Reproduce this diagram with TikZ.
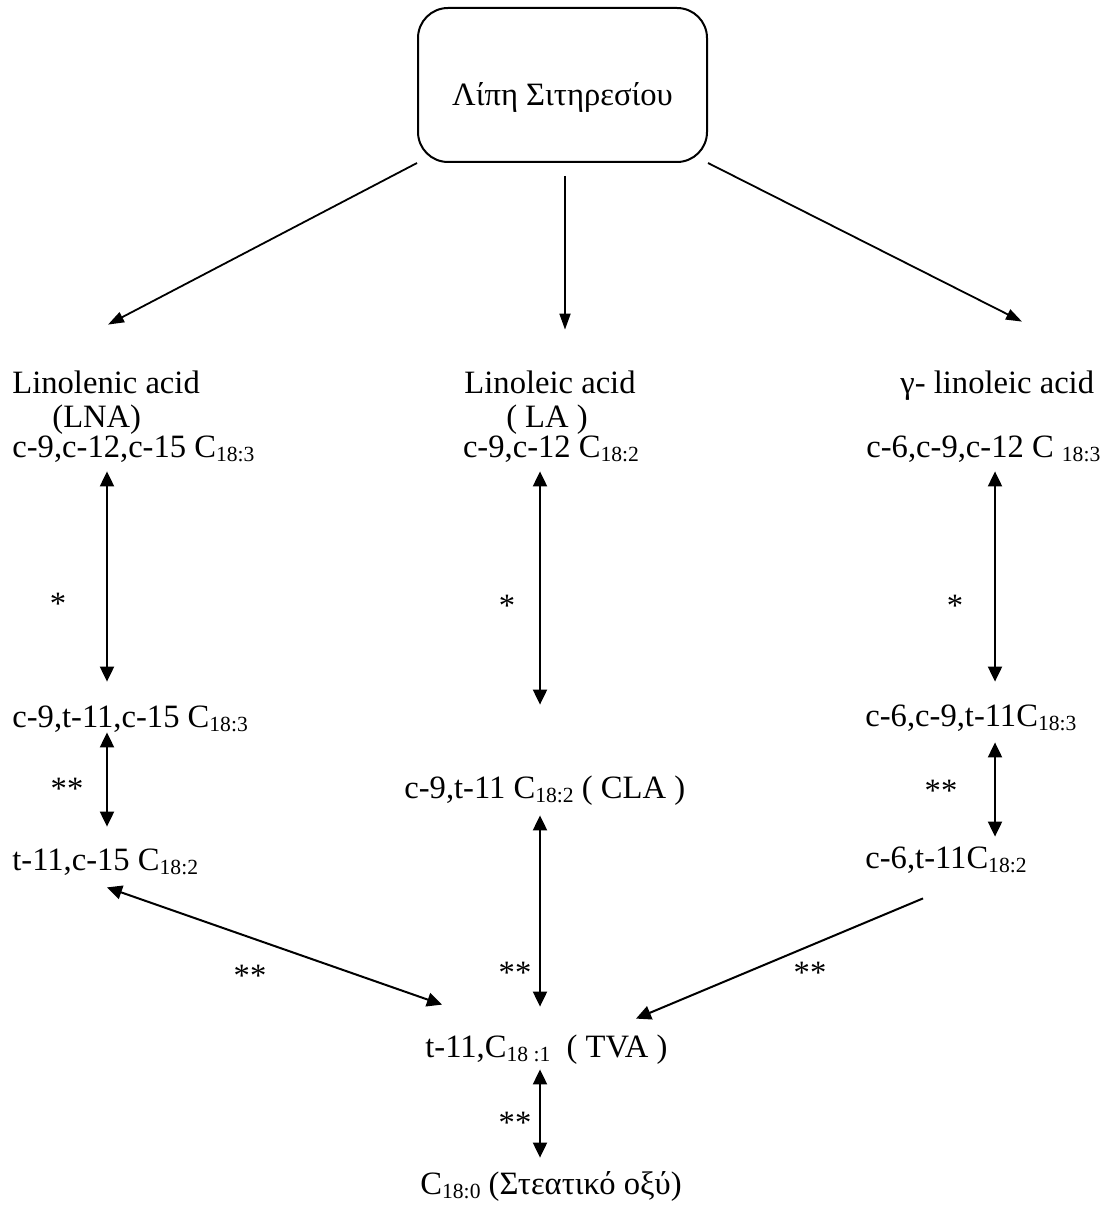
\documentclass[tikz,border=0pt]{standalone}
\usepackage{fontspec}
\setmainfont{Liberation Serif}
\usetikzlibrary{arrows.meta,calc}
\newcommand{\fs}{\fontsize{16.3pt}{19.5pt}\selectfont}
\newcommand{\sbs}[1]{\raisebox{-2pt}{\fontsize{10.8pt}{12pt}\selectfont #1}}
\begin{document}
\begin{tikzpicture}[x=0.5pt, y=-0.5pt,
  txt/.style={font=\fs, inner sep=0pt, text height=11.5pt, text depth=4pt},
  star/.style={font=\fs, inner sep=0pt, anchor=base},
  arr/.style={line width=0.9pt, -{Triangle[length=8pt,width=5.5pt]}},
  dbl/.style={line width=1pt, {Triangle[length=7.5pt,width=7pt]}-{Triangle[length=7.5pt,width=7pt]}},
  one/.style={line width=1pt, -{Triangle[length=7.5pt,width=7pt]}}]
  \useasboundingbox (0,0) rectangle (1107,1209);
  \coordinate (colL) at (107,0);
  \coordinate (colM) at (540,0);
  \coordinate (colR) at (995,0);

  \node[draw, line width=1pt, rounded corners=15pt, minimum width=144.5pt,
    minimum height=77pt, font=\fs, text height=21pt, text depth=0pt]
    (lipi) at (562.5,85) {Λίπη Σιτηρεσίου};

  % acids
  \node[txt, anchor=base west] (lnaName) at (12,393) {Linolenic acid};
  \node[txt, anchor=base west] (lnaAbbr) at (52,427) {(LNA)};
  \node[txt, anchor=base west] (lnaFa) at (12,457) {c-9,c-12,c-15 C\sbs{18:3}};
  \node[txt, anchor=base] (laName) at (550,393) {Linoleic acid};
  \node[txt, anchor=base] (laAbbr) at (547,427) {( LA )};
  \node[txt, anchor=base] (laFa) at (551,457) {c-9,c-12 C\sbs{18:2}};
  \node[txt, anchor=base west] (glaName) at (900,393) {γ- linoleic acid};
  \node[txt, anchor=base west] (glaFa) at (866,457) {c-6,c-9,c-12 C \sbs{18:3}};

  % intermediates
  \node[txt, anchor=base west] (lnaIso) at (12,727) {c-9,t-11,c-15 C\sbs{18:3}};
  \node[txt, anchor=base west] (glaIso) at (865,726) {c-6,c-9,t-11C\sbs{18:3}};
  \node[txt, anchor=base west] (cla) at (404,798) {c-9,t-11 C\sbs{18:2} ( CLA )};
  \node[txt, anchor=base west] (lnaTrans) at (12,870) {t-11,c-15 C\sbs{18:2}};
  \node[txt, anchor=base west] (glaTrans) at (865,868) {c-6,t-11C\sbs{18:2}};
  \node[txt, anchor=base west] (tva) at (425,1057) {t-11,C\sbs{18 :1}\ \ ( TVA )};
  \node[txt, anchor=base west] (stear) at (420,1194) {C\sbs{18:0} (Στεατικό οξύ)};

  % stars
  \node[star] (stL) at (58,614) {*};
  \node[star] (stM) at (507,616) {*};
  \node[star] (stR) at (955,616) {*};
  \node[star] (stLb) at (67,799) {**};
  \node[star] (stRb) at (941,801) {**};
  \node[star] (stDl) at (250,986) {**};
  \node[star] (stDr) at (810,983) {**};
  \node[star] (stMb) at (515,983) {**};
  \node[star] (stEnd) at (515,1133) {**};

  \draw[arr] (lipi.south west) -- ($(lnaName.north west)+(96,-45)$);
  \draw[arr] ($(lipi.south)+(2.5,13)$) -- ($(lipi.south |- laName.north)+(2.5,-40)$);
  \draw[arr] (lipi.south east) -- ($(glaName.north west)+(122,-48)$);

  \draw[dbl] ($(lnaFa.south -| colL)+(0,6)$) -- ($(lnaIso.north -| colL)+(0,-22)$);
  \draw[dbl] ($(laFa.south -| colM)+(0,6)$) -- ($(cla.north -| colM)+(0,-70)$);
  \draw[dbl] ($(glaFa.south -| colR)+(0,6)$) -- ($(glaIso.north -| colR)+(0,-21)$);
  \draw[dbl] ($(lnaIso.south -| colL)+(0,-3)$) -- ($(lnaTrans.north -| colL)+(0,-20)$);
  \draw[dbl] ($(glaIso.south -| colR)+(0,8)$) -- ($(glaTrans.north -| colR)+(0,-8)$);
  \draw[dbl] ($(cla.south -| colM)+(0,9)$) -- ($(tva.north -| colM)+(0,-27)$);
  \draw[dbl] ($(lnaTrans.south -| colL)+(0,9)$) -- ($(tva.north west)+(17,-29)$);
  \draw[one] ($(glaTrans.south west)+(58,22)$) -- ($(tva.north west)+(211,-15)$);
  \draw[dbl] ($(tva.south -| colM)+(0,4)$) -- ($(stear.north -| colM)+(0,-13)$);
\end{tikzpicture}
\end{document}
